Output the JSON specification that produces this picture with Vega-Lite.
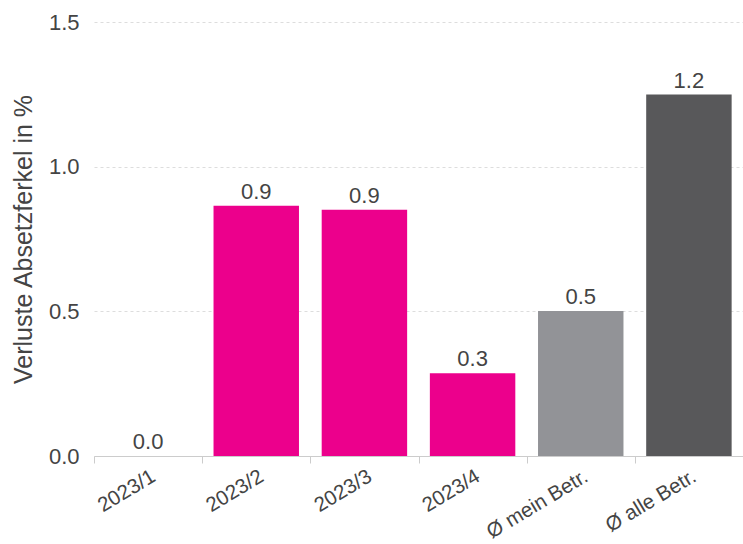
{
  "$schema": "https://vega.github.io/schema/vega-lite/v6.json",
  "autosize": "none",
  "width": 649,
  "height": 434,
  "padding": {"left": 94, "top": 22, "right": 0, "bottom": 88},
  "background": "white",
  "config": {
    "font": "Liberation Sans",
    "view": {"stroke": null}
  },
  "data": {
    "values": [
      {"kat": "2023/1", "wert": 0.0, "typ": "Betrieb"},
      {"kat": "2023/2", "wert": 0.865, "typ": "Betrieb"},
      {"kat": "2023/3", "wert": 0.851, "typ": "Betrieb"},
      {"kat": "2023/4", "wert": 0.286, "typ": "Betrieb"},
      {"kat": "Ø mein Betr.", "wert": 0.501, "typ": "mein"},
      {"kat": "Ø alle Betr.", "wert": 1.249, "typ": "alle"}
    ]
  },
  "encoding": {
    "x": {
      "field": "kat",
      "type": "nominal",
      "sort": null,
      "scale": {"paddingInner": 0, "paddingOuter": 0},
      "axis": {
        "title": null,
        "labelAngle": -31,
        "labelAlign": "right",
        "labelBaseline": "top",
        "labelFontSize": 20.5,
        "labelColor": "#444444",
        "labelPadding": 3,
        "tickBand": "extent",
        "tickColor": "#cccccc",
        "tickSize": 7,
        "domainColor": "#cccccc",
        "grid": false
      }
    },
    "y": {
      "field": "wert",
      "type": "quantitative",
      "scale": {"domain": [0, 1.5], "nice": false},
      "axis": {
        "title": "Verluste Absetzferkel in %",
        "titleFontSize": 25,
        "titleFontWeight": "normal",
        "titleColor": "#444444",
        "titlePadding": 12,
        "values": [0, 0.5, 1.0, 1.5],
        "format": ".1f",
        "labelFontSize": 22,
        "labelColor": "#444444",
        "labelPadding": 15,
        "ticks": false,
        "domain": false,
        "grid": true,
        "gridColor": "#dddddd",
        "gridDash": [3, 3],
        "gridWidth": 1
      }
    }
  },
  "layer": [
    {
      "mark": {"type": "bar", "width": {"band": 0.79}},
      "encoding": {
        "color": {
          "field": "typ",
          "type": "nominal",
          "scale": {"domain": ["Betrieb", "mein", "alle"], "range": ["#EC008C", "#929397", "#58585A"]},
          "legend": null
        }
      }
    },
    {
      "mark": {"type": "text", "baseline": "bottom", "dy": -2, "fontSize": 22, "color": "#444444"},
      "encoding": {
        "text": {"field": "wert", "type": "quantitative", "format": ".1f"}
      }
    }
  ]
}
